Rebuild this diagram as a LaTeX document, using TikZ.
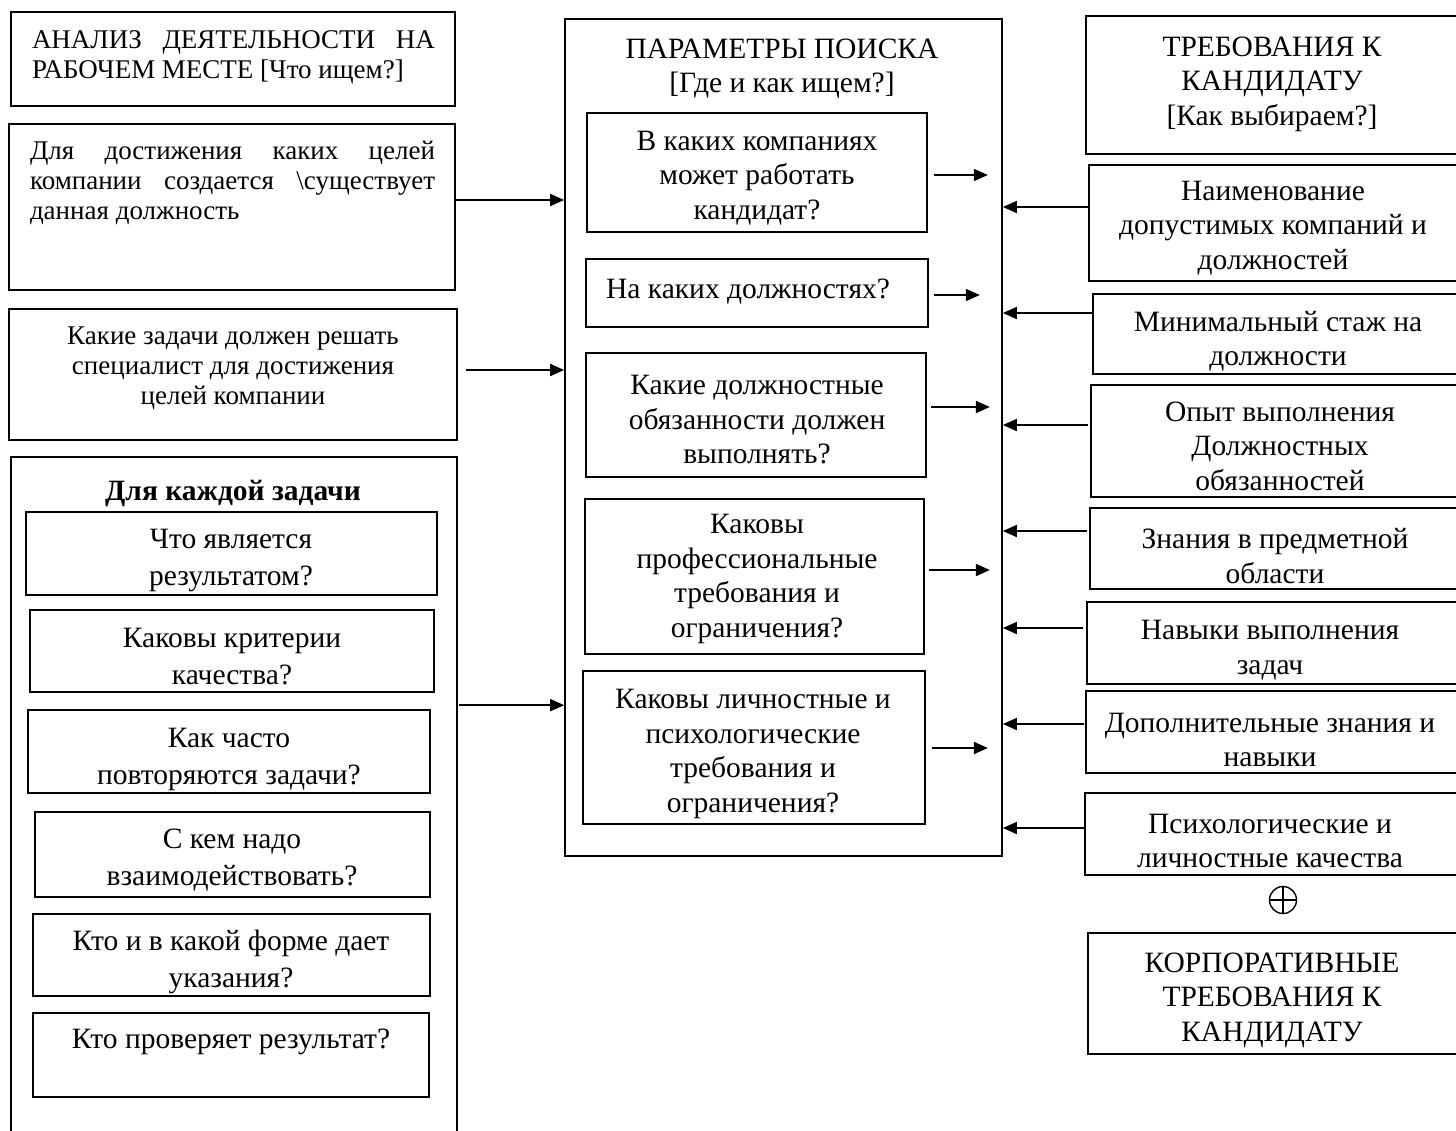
\documentclass[tikz,border=0pt]{standalone}
\usepackage{fontspec}
\setmainfont{Liberation Serif}
\usetikzlibrary{arrows.meta,calc}
\newcommand\mkbox[5]{\node[bx, minimum width={(#4)-(#2)}, minimum height={(#5)-(#3)}] (#1) at ({((#2)+(#4))/2},{((#3)+(#5))/2}) {};}
\begin{document}
\begin{tikzpicture}[x=1pt,y=-1pt,
  bx/.style={draw, line width=1.7pt, inner sep=0pt},
  tx/.style={inner sep=0pt, align=center, yshift=-3pt, font=\fontsize{29.5}{34.5}\selectfont},
  txs/.style={inner sep=0pt, align=center, font=\fontsize{27}{30}\selectfont},
  txi/.style={inner sep=0pt, align=center, yshift=-2pt, font=\fontsize{29.5}{37}\selectfont},
  arr/.style={line width=1.8pt, -{Triangle[length=14pt,width=12pt]}},
]
\useasboundingbox (0,0) rectangle (1456,1130);
\fill[white] (0,0) rectangle (1456,1130);
\clip (0,0) rectangle (1456,1130);

% ---------- left column ----------
\mkbox{A1}{11}{12}{455}{106}
\node[txs, text width=403pt, align=justify] (A1t) at (233.5,57) {АНАЛИЗ ДЕЯТЕЛЬНОСТИ НА\linebreak РАБОЧЕМ МЕСТЕ [Что ищем?]};
\mkbox{A2}{9}{124}{455}{290}
\node[txs, text width=405pt, align=justify] (A2t) at (232.5,183) {Для достижения каких целей\linebreak компании создается \textbackslash существует\linebreak данная должность};
\mkbox{A3}{9}{309}{457}{440}
\node[txs] (A3t) at (233,368) {Какие задачи должен решать\\специалист для достижения\\целей компании};

\mkbox{A4}{11}{457}{457}{1145}
\node[tx, font=\fontsize{29.5}{34}\selectfont\bfseries] (A4t) at (233,490) {Для каждой задачи};
\mkbox{I1}{26}{512}{437}{595}
\node[txi] (I1t) at (231,559) {Что является\\результатом?};
\mkbox{I2}{30}{610}{434}{692}
\node[txi] (I2t) at (232,655) {Каковы критерии\\качества?};
\mkbox{I3}{28}{710}{430}{793}
\node[txi] (I3t) at (229,757) {Как часто\\повторяются задачи?};
\mkbox{I4}{35}{812}{430}{897}
\node[txi] (I4t) at (232,858) {С кем надо\\взаимодействовать?};
\mkbox{I5}{33}{914}{430}{996}
\node[txi] (I5t) at (231,960) {Кто и в какой форме дает\\указания?};
\mkbox{I6}{33}{1013}{429}{1097}
\node[txi] (I6t) at (231,1040) {Кто проверяет результат?};

% ---------- centre column ----------
\mkbox{B}{565}{19}{1002}{856}
\node[tx] (Bt) at (782,66) {ПАРАМЕТРЫ ПОИСКА\\{[}Где и как ищем?{]}};
\mkbox{B1}{587}{113}{927}{232}
\node[tx] (B1t) at (757,175) {В каких компаниях\\может работать\\кандидат?};
\mkbox{B2}{586}{259}{928}{327}
\node[tx] (B2t) at (748,289) {На каких должностях?};
\mkbox{B3}{586}{353}{926}{477}
\node[tx] (B3t) at (757,417) {Какие должностные\\обязанности должен\\выполнять?};
\mkbox{B4}{585}{499}{924}{654}
\node[tx] (B4t) at (757,576) {Каковы\\профессиональные\\требования и\\ограничения?};
\mkbox{B5}{583}{671}{925}{824}
\node[tx] (B5t) at (753,751) {Каковы личностные и\\психологические\\требования и\\ограничения?};

% ---------- right column ----------
\mkbox{C0}{1086}{16}{1470}{154}
\node[tx] (C0t) at (1272,81) {ТРЕБОВАНИЯ К\\КАНДИДАТУ\\{[}Как выбираем?{]}};
\mkbox{C1}{1089}{165}{1470}{281}
\node[tx] (C1t) at (1273,225) {Наименование\\допустимых компаний и\\должностей};
\mkbox{C2}{1093}{294}{1470}{374}
\node[tx] (C2t) at (1278,338) {Минимальный стаж на\\должности};
\mkbox{C3}{1091}{385}{1470}{497}
\node[tx] (C3t) at (1280,443) {Опыт выполнения\\Должностных\\обязанностей};
\mkbox{C4}{1090}{508}{1470}{589}
\node[tx] (C4t) at (1275,553) {Знания в предметной\\области};
\mkbox{C5}{1087}{602}{1470}{684}
\node[tx] (C5t) at (1270,647) {Навыки выполнения\\задач};
\mkbox{C6}{1086}{691}{1470}{773}
\node[tx] (C6t) at (1270,737) {Дополнительные знания и\\навыки};
\mkbox{C7}{1085}{793}{1470}{875}
\node[tx] (C7t) at (1270,838) {Психологические и\\личностные качества};
\node[draw, circle, line width=1.4pt, minimum size=27pt, inner sep=0pt,
  path picture={\draw[line width=1.4pt] (path picture bounding box.north) -- (path picture bounding box.south)
                  (path picture bounding box.west) -- (path picture bounding box.east);}] (plus) at (1283,900) {};
\mkbox{C8}{1088}{933}{1470}{1054}
\node[tx] (C8t) at (1272,997) {КОРПОРАТИВНЫЕ\\ТРЕБОВАНИЯ К\\КАНДИДАТУ};

% ---------- arrows left -> centre ----------
\coordinate (a2o) at ($(A2.east)+(0,-7)$);
\draw[arr] (a2o) -- (a2o -| B.west);
\coordinate (a3o) at ($(A3.east)+(8,-4.5)$);
\draw[arr] (a3o) -- (a3o -| B.west);
\coordinate (a4o) at ($(A4.north east)+(1,249)$);
\draw[arr] (a4o) -- (a4o -| B.west);

% ---------- arrows inside centre ----------
\coordinate (b1o) at ($(B1.east)+(6,2.5)$);  \coordinate (b1e) at ($(b1o)+(54,0)$);
\coordinate (b2o) at ($(B2.east)+(5,2)$);    \coordinate (b2e) at ($(b2o)+(46,0)$);
\coordinate (b3o) at ($(B3.east)+(4,-8)$);   \coordinate (b3e) at ($(b3o)+(59,0)$);
\coordinate (b4o) at ($(B4.east)+(4,-6.5)$); \coordinate (b4e) at ($(b4o)+(61,0)$);
\coordinate (b5o) at ($(B5.east)+(6,0.5)$);  \coordinate (b5e) at ($(b5o)+(56,0)$);
\foreach \i in {1,...,5}{\draw[arr] (b\i o) -- (b\i e);}

% ---------- arrows right -> centre ----------
\coordinate (c1o) at ($(C1.west)+(0,-16)$);
\coordinate (c2o) at ($(C2.west)+(0,-21)$);
\coordinate (c3o) at ($(C3.west)+(-2,-16)$);
\coordinate (c4o) at ($(C4.west)+(-2,-17.5)$);
\coordinate (c5o) at ($(C5.west)+(-3,-15)$);
\coordinate (c6o) at ($(C6.west)+(-1,-8)$);
\coordinate (c7o) at ($(C7.west)+(0,-6)$);
\foreach \i in {1,...,7}{\draw[arr] (c\i o) -- (c\i o -| B.east);}
\end{tikzpicture}
\end{document}
